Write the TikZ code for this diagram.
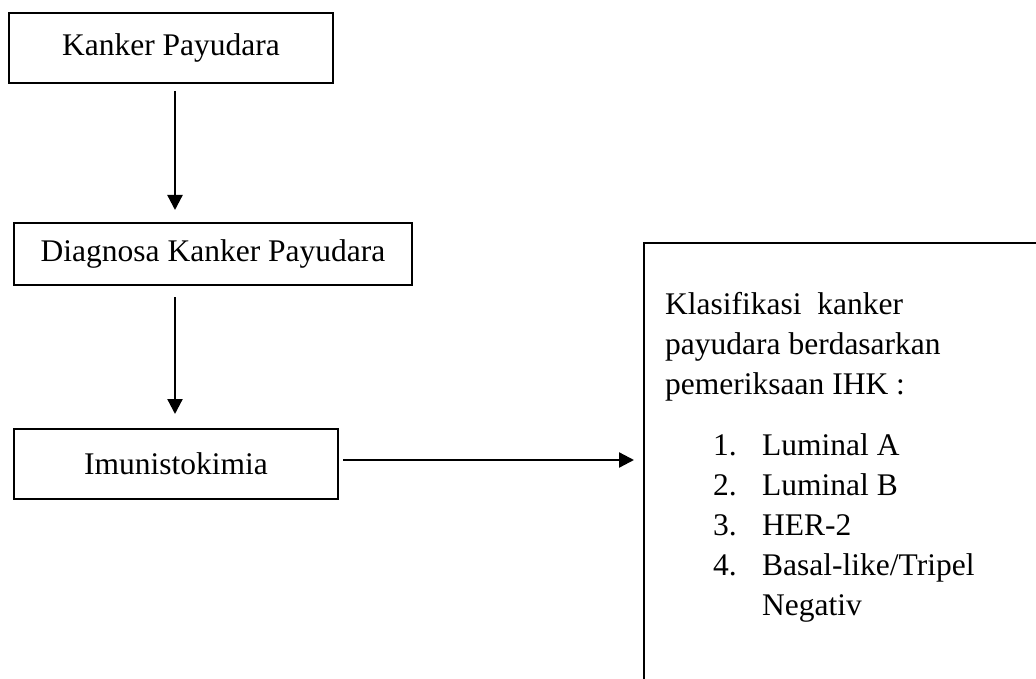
\documentclass[tikz,border=0pt]{standalone}
\usepackage{fontspec}
\setmainfont{Liberation Serif}
\usetikzlibrary{arrows.meta}
\begin{document}
\begin{tikzpicture}[x=1pt,y=-1pt,
  box/.style={draw=black,line width=2.3pt,inner sep=0pt,outer sep=0pt,
    font=\fontsize{31.5pt}{40pt}\selectfont},
  arr/.style={line width=2.3pt,-{Triangle[length=15pt,width=15pt]}}]
\useasboundingbox (0,0) rectangle (1036,679);
\clip (0,0) rectangle (1036,679);
\fill[white] (0,0) rectangle (1036,679);
% boxes
\node[box,minimum width=324pt,minimum height=70pt] (b1) at (171,48) {Kanker Payudara};
\node[box,minimum width=398pt,minimum height=62pt] (b2) at (213,254) {Diagnosa Kanker Payudara};
\node[box,minimum width=324pt,minimum height=70pt] (b3) at (176,464) {Imunistokimia};
\node[draw=black,line width=2.6pt,inner sep=0pt,outer sep=0pt,anchor=north west,
  minimum width=500pt,minimum height=500pt] (cls) at (644,243) {};
\node[anchor=base west,inner sep=0pt] (clstext) at (665,314)
  {\fontsize{31.5pt}{40pt}\selectfont\vtop{\baselineskip=40pt\hsize=360pt
   \hbox{Klasifikasi\ \ kanker}
   \hbox{payudara berdasarkan}
   \hbox{pemeriksaan IHK :}
   \vskip21pt
   \hbox{\hskip48pt\makebox[49pt][l]{1.}Luminal A}
   \hbox{\hskip48pt\makebox[49pt][l]{2.}Luminal B}
   \hbox{\hskip48pt\makebox[49pt][l]{3.}HER-2}
   \hbox{\hskip48pt\makebox[49pt][l]{4.}Basal-like/Tripel}
   \hbox{\hskip97pt Negativ}}};
% connectors
\coordinate (ax) at (175,0);
\coordinate (ay) at (0,460);
\draw[arr,shorten <=8pt,shorten >=13pt] (b1.south -| ax) -- (b2.north -| ax);
\draw[arr,shorten <=12pt,shorten >=15pt] (b2.south -| ax) -- (b3.north -| ax);
\draw[arr,shorten <=5pt,shorten >=10pt] (b3.east |- ay) -- (cls.west |- ay);
\end{tikzpicture}
\end{document}
